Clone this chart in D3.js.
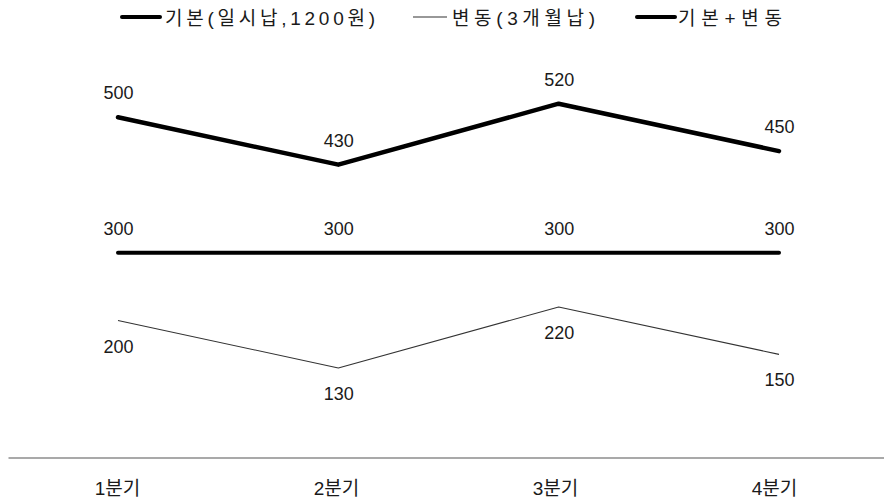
<!DOCTYPE html>
<html>
<head>
<meta charset="utf-8">
<script src="https://cdn.jsdelivr.net/npm/d3@7/dist/d3.min.js"></script>
<style>
  html, body { margin: 0; padding: 0; background: #fff; }
  svg { display: block; }
  text { font-family: "Liberation Sans", "Noto Sans CJK KR", sans-serif; fill: #1a1a1a; }
</style>
</head>
<body>
<svg id="chart" width="884" height="500"></svg>
<script>
// Quarterly categories and series values
const categories = ["1분기", "2분기", "3분기", "4분기"];
const seriesNames = ["기본(일시납,1200원)", "변동(3개월납)", "기본+변동"];
const basicValues = [300, 300, 300, 300];
const variableValues = [200, 130, 220, 150];
const totalValues = [500, 430, 520, 450];

const svg = d3.select("#chart");

// Scales
const xBand = d3.scaleBand().domain(categories).range([8, 884]);
const x = d3.scalePoint().domain(categories).range([118, 779]);
const y = d3.scaleLinear().domain([0, 600]).range([456, 49.5]);

const series = [
  { name: seriesNames[0], values: basicValues, width: 4, color: "#000", labelDy: -18 },
  { name: seriesNames[1], values: variableValues, width: 1.1, color: "#333", labelDy: 32 },
  { name: seriesNames[2], values: totalValues, width: 4.5, color: "#000", labelDy: -18 }
];

// Category axis: baseline plus labels
const axis = d3.axisBottom(xBand).tickSize(0).tickPadding(0);
const axisG = svg.append("g").attr("transform", "translate(0,457.5)").call(axis);
axisG.attr("font-family", null);
axisG.select(".domain").attr("stroke", "#8c8c8c").attr("stroke-width", 1.5);
axisG.selectAll(".tick text")
  .attr("dy", null)
  .attr("y", 37)
  .style("font-family", "'Liberation Sans', 'Noto Sans CJK KR', sans-serif")
  .style("font-size", "19px")
  .style("fill", "#1a1a1a");

// Lines
const line = d3.line()
  .x((d, i) => x(categories[i]))
  .y(d => y(d));

series.forEach(s => {
  svg.append("path")
    .datum(s.values)
    .attr("fill", "none")
    .attr("stroke", s.color)
    .attr("stroke-width", s.width)
    .attr("stroke-linejoin", "round")
    .attr("stroke-linecap", s.width > 2 ? "round" : "butt")
    .attr("d", line);

  svg.append("g")
    .selectAll("text")
    .data(s.values)
    .join("text")
    .attr("x", (d, i) => x(categories[i]) + 0.5)
    .attr("y", d => y(d) + s.labelDy)
    .attr("text-anchor", "middle")
    .style("font-size", "18px")
    .text(d => d);
});

// Legend
const legendItems = [
  { s: series[0], x0: 122, x1: 160, tx: 165, tw: 210 },
  { s: series[1], x0: 413, x1: 447, tx: 452, tw: 143 },
  { s: series[2], x0: 637, x1: 675, tx: 678, tw: 104 }
];
const legend = svg.append("g");
legendItems.forEach(item => {
  legend.append("line")
    .attr("x1", item.x0).attr("x2", item.x1)
    .attr("y1", 17).attr("y2", 17)
    .attr("stroke", item.s.color)
    .attr("stroke-width", item.s.width > 2 ? 4 : 1.1)
    .attr("stroke-linecap", item.s.width > 2 ? "round" : "butt");
  legend.append("text")
    .attr("x", item.tx)
    .attr("y", 25)
    .attr("textLength", item.tw)
    .attr("lengthAdjust", "spacing")
    .style("font-family", "'Liberation Sans', 'Noto Sans CJK KR', sans-serif")
    .style("font-size", "19px")
    .text(item.s.name);
});
</script>
</body>
</html>
